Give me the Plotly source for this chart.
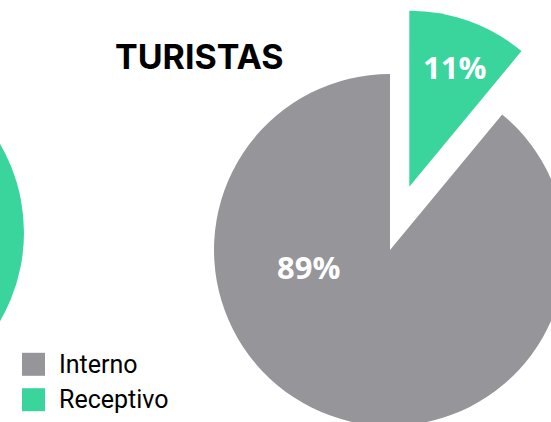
import plotly.graph_objects as go

# ---- data ----
categories = ["Interno", "Receptivo"]
values = [89, 11]
colors = ["#969599", "#3AD59D"]
title_text = "TURISTAS"

# ---- layout constants (pixels) ----
W, H = 700, 600          # figure larger than the 551x422 window; extra area is cropped
R = 176                  # pie radius
GRAY_C = (390, 250)      # centre of the main pie
GREEN_C = (409.3, 186.7) # centre of the exploded slice
LEFT_C = (24 - R, 232.5) # neighbouring (cropped) chart on the left


def domain(c):
    cx, cy = c
    return dict(x=[(cx - R) / W, (cx + R) / W],
                y=[1 - (cy + R) / H, 1 - (cy - R) / H])


transparent = "rgba(0,0,0,0)"
# start Interno where Receptivo ends so that Receptivo sits at 12 o'clock, clockwise
start = 360 * values[1] / sum(values)

fig = go.Figure()
# main body (Interno)
fig.add_trace(go.Pie(
    labels=categories, values=values, sort=False, direction="clockwise",
    rotation=start, domain=domain(GRAY_C), textinfo="none", hoverinfo="skip",
    marker=dict(colors=[colors[0], transparent], line=dict(width=0)),
    showlegend=False,
))
# exploded slice (Receptivo)
fig.add_trace(go.Pie(
    labels=categories, values=values, sort=False, direction="clockwise",
    rotation=start, domain=domain(GREEN_C), textinfo="none", hoverinfo="skip",
    marker=dict(colors=[transparent, colors[1]], line=dict(width=0)),
    showlegend=False,
))

annotations = []
# percentage labels
label_pos = [(308, 267), (454, 67)]
for v, (px, py) in zip(values, label_pos):
    annotations.append(dict(
        x=px / W, y=1 - py / H, xref="paper", yref="paper", showarrow=False,
        text=f"{v}%", xanchor="center", yanchor="middle",
        font=dict(family="Open Sans", size=31, color="white", weight="bold"),
    ))
# title
annotations.append(dict(
    x=199.5 / W, y=1 - 57 / H, xref="paper", yref="paper", showarrow=False,
    text=f"<b>{title_text}</b>", xanchor="center", yanchor="middle",
    font=dict(family="Inter", size=34, color="black", weight=900),
))

shapes = []
# cropped neighbouring chart on the left
shapes.append(dict(
    type="circle", xref="paper", yref="paper",
    x0=(LEFT_C[0] - R) / W, x1=(LEFT_C[0] + R) / W,
    y0=1 - (LEFT_C[1] + R) / H, y1=1 - (LEFT_C[1] - R) / H,
    fillcolor=colors[1], line=dict(width=0), layer="below",
))

# manual legend
leg_y = [364.3, 399.7]
for name, col, ly in zip(categories, colors, leg_y):
    shapes.append(dict(
        type="rect", xref="paper", yref="paper",
        x0=22 / W, x1=45 / W, y0=1 - (ly + 11.5) / H, y1=1 - (ly - 11.5) / H,
        fillcolor=col, line=dict(width=0),
    ))
    annotations.append(dict(
        x=57 / W, y=1 - ly / H, xref="paper", yref="paper", showarrow=False,
        text=name, xanchor="left", yanchor="middle",
        font=dict(family="Roboto", size=25, color="black"),
    ))

fig.update_layout(
    width=W, height=H, autosize=False,
    margin=dict(l=0, r=0, t=0, b=0, pad=0),
    paper_bgcolor="white", plot_bgcolor="white",
    annotations=annotations, shapes=shapes,
)

post = ("document.documentElement.style.overflow='hidden';"
        "document.body.style.overflow='hidden';"
        "document.body.style.margin='0';")
fig.write_html("out.html", config={"displayModeBar": False}, post_script=post)
